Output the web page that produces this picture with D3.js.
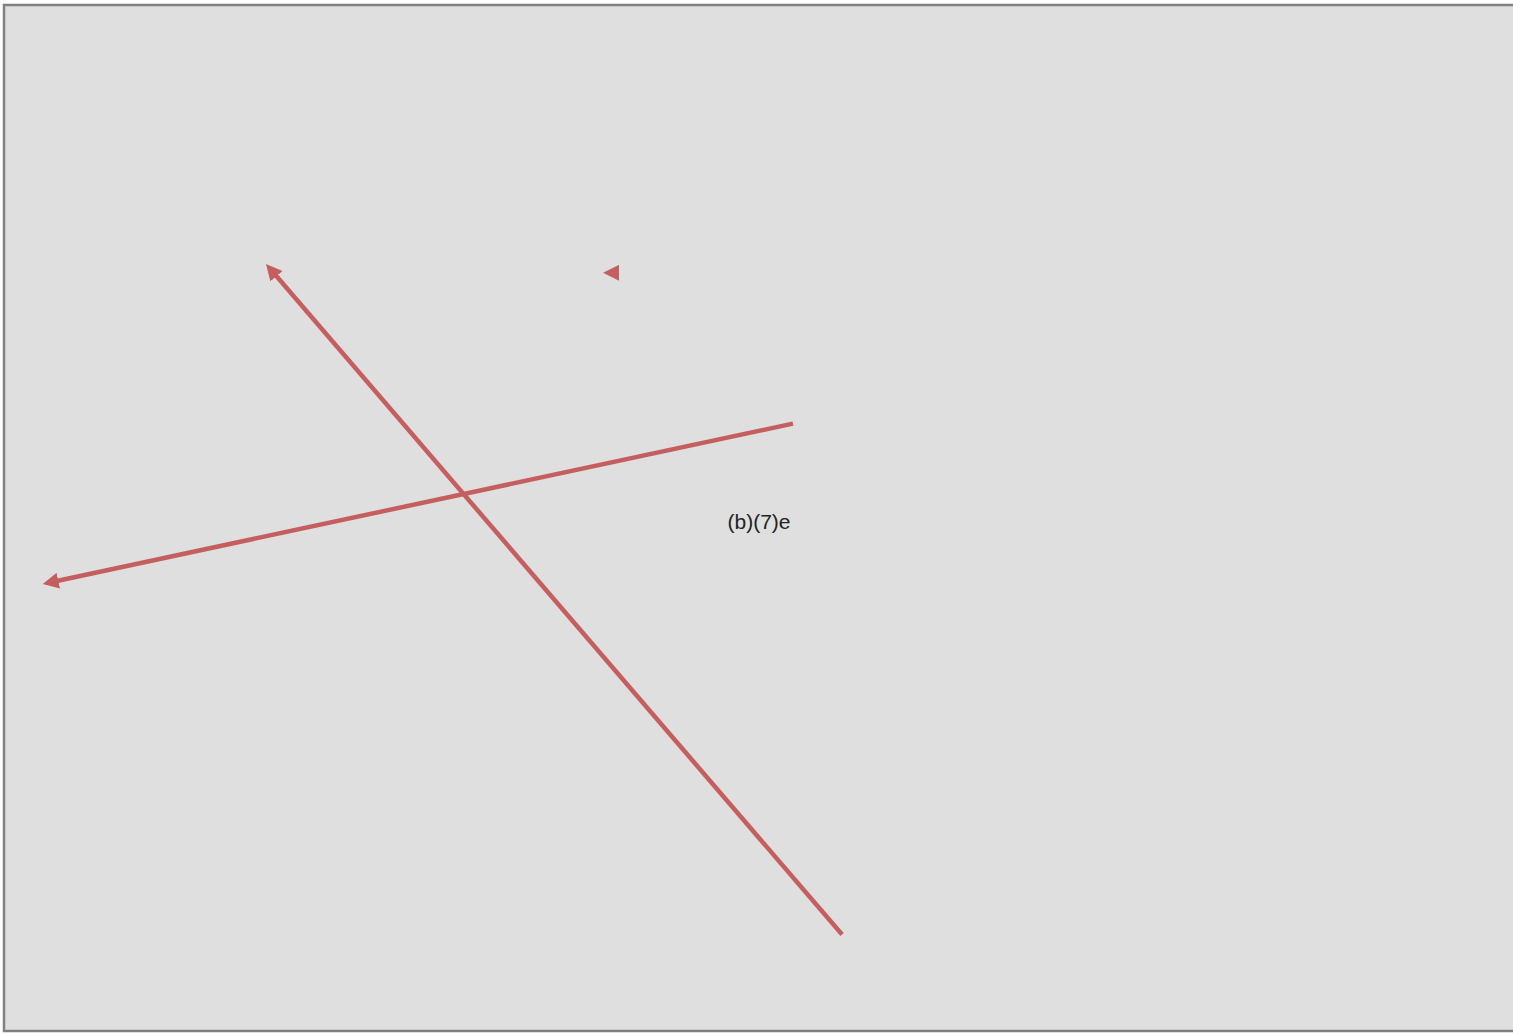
<!DOCTYPE html>
<html>
<head>
<meta charset="utf-8">
<script src="https://cdn.jsdelivr.net/npm/d3@7"></script>
<style>
   html, body { margin: 0; padding: 0; background: #ffffff; overflow: hidden; }
   svg { display: block; }
</style>
</head>
<body>
<div id="chart"></div>
<script>
// arrow segments in plot units (0..100 both ways, y up): start -> end (arrow at end)
const arrowNames = ["a", "b", "c"];
const arrowX1 = [55.5, 52.25, 40.17];
const arrowY1 = [9.4, 59.2, 73.9];
const arrowX2 = [17.61, 2.95, 40.07];
const arrowY2 = [74.31, 43.69, 73.9];

const labelTexts = ["(b)(7)e"];
const labelX = [50.0];
const labelY = [49.5];

const W = 1513, H = 1033;
const box = { x: 4, y: 5, w: 1512, h: 1026 };

const svg = d3.select("#chart")
   .append("svg")
   .attr("width", W)
   .attr("height", H);

svg.append("rect")
   .attr("x", box.x)
   .attr("y", box.y)
   .attr("width", box.w)
   .attr("height", box.h)
   .attr("fill", "#dfdfdf")
   .attr("stroke", "#808080")
   .attr("stroke-width", 2.5);

const x = d3.scaleLinear().domain([0, 100]).range([box.x, box.x + 1510]);
const y = d3.scaleLinear().domain([0, 100]).range([box.y + box.h, box.y]);

const red = "#c55f5f";

// head drawn over the line end so the stroke stays hidden inside it
svg.append("defs").append("marker")
   .attr("id", "head")
   .attr("viewBox", "0 -8 16 16")
   .attr("refX", 10)
   .attr("refY", 0)
   .attr("markerUnits", "userSpaceOnUse")
   .attr("markerWidth", 16)
   .attr("markerHeight", 16)
   .attr("orient", "auto")
   .append("path")
   .attr("d", "M0,-8L16,0L0,8Z")
   .attr("fill", red);

const arrows = arrowNames.map((n, i) => ({
   name: n, x1: arrowX1[i], y1: arrowY1[i], x2: arrowX2[i], y2: arrowY2[i]
}));

svg.selectAll(".arrow")
   .data(arrows)
   .enter()
   .append("line")
   .attr("class", "arrow")
   .attr("x1", d => x(d.x1))
   .attr("y1", d => y(d.y1))
   .attr("x2", d => x(d.x2))
   .attr("y2", d => y(d.y2))
   .attr("stroke", red)
   .attr("stroke-width", 4.5)
   .attr("marker-end", "url(#head)");

svg.selectAll(".label")
   .data(labelTexts)
   .enter()
   .append("text")
   .attr("class", "label")
   .attr("x", (d, i) => x(labelX[i]))
   .attr("y", (d, i) => y(labelY[i]))
   .attr("text-anchor", "middle")
   .attr("dominant-baseline", "middle")
   .attr("font-family", "Liberation Sans, Arial, sans-serif")
   .attr("font-size", 21)
   .attr("fill", "#222222")
   .text(d => d);
</script>
</body>
</html>
